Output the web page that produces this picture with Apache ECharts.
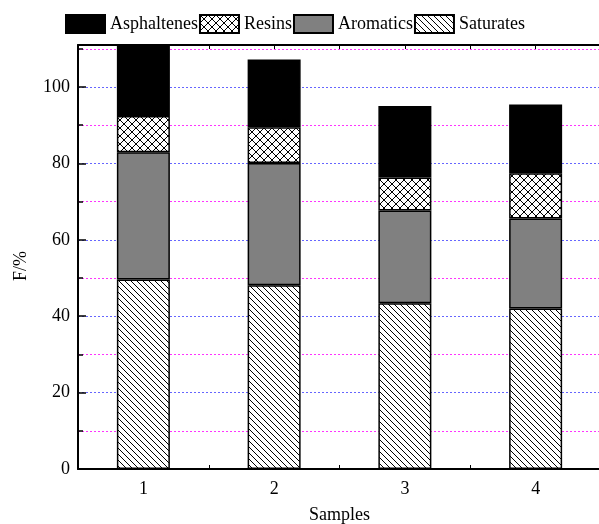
<!DOCTYPE html>
<html>
<head>
<meta charset="utf-8">
<script src="https://cdn.jsdelivr.net/npm/echarts@6/dist/echarts.min.js"></script>
<style>
    html, body { margin: 0; padding: 0; background: #fff; }
    #bar_stacked { width: 599px; height: 524px; }
</style>
</head>
<body>
<div id="bar_stacked"></div>
<script>
// Chart data
var samples = ['1', '2', '3', '4'];
var saturates = [49.6, 48.1, 43.4, 42.0];
var aromatics = [33.3, 32.0, 24.3, 23.6];
var resins = [9.5, 9.4, 8.6, 11.8];
var asphaltenes = [19.5, 17.7, 18.7, 18.0];
var legendNames = ['Asphaltenes', 'Resins', 'Aromatics', 'Saturates'];

var fontFamily = '"Liberation Serif", "Times New Roman", serif';

// Hatch pattern tiles
var makePattern = function (size, cross) {
    var c = document.createElement('canvas');
    c.width = size;
    c.height = size;
    var ctx = c.getContext('2d');
    ctx.fillStyle = '#fff';
    ctx.fillRect(0, 0, size, size);
    ctx.strokeStyle = '#000';
    ctx.lineWidth = 1;
    ctx.beginPath();
    for (var k = -1; k <= 1; k++) {
        ctx.moveTo(k * size, 0);
        ctx.lineTo(k * size + size, size);
        if (cross) {
            ctx.moveTo(k * size + size, 0);
            ctx.lineTo(k * size, size);
        }
    }
    ctx.stroke();
    return { image: c, repeat: 'repeat' };
};

var hatch = makePattern(6, false);
var crossHatch = makePattern(8, true);

var chartElement = document.getElementById('bar_stacked');
var chart = echarts.init(chartElement);

var barSeries = function (name, data, fill) {
    return {
        name: name,
        type: 'bar',
        stack: 'total',
        barWidth: 53,
        xAxisIndex: 0,
        yAxisIndex: 1,
        itemStyle: {
            color: fill,
            borderColor: '#000',
            borderWidth: 1.5
        },
        data: data
    };
};

chart.setOption({
    animation: false,
    textStyle: { fontFamily: fontFamily },

    legend: {
        data: legendNames,
        left: 65,
        top: 14,
        padding: 0,
        itemWidth: 39,
        itemHeight: 18,
        itemGap: 1,
        icon: 'rect',
        textStyle: { fontSize: 18, color: '#000', fontFamily: fontFamily }
    },

    grid: {
        left: 78,
        right: -2,
        top: 45,
        bottom: 55,
        containLabel: false,
        outerBoundsMode: 'none'
    },

    xAxis: [
        {
            type: 'category',
            data: samples,
            name: 'Samples',
            nameLocation: 'middle',
            nameGap: 37,
            nameTextStyle: { fontSize: 18, color: '#000' },
            axisLine: { lineStyle: { color: '#000', width: 2 } },
            axisTick: { alignWithLabel: true, inside: true, length: 4, lineStyle: { color: '#000' } },
            axisLabel: { fontSize: 18, color: '#000', margin: 11 },
            splitLine: { show: false }
        },
        {
            type: 'value',
            position: 'bottom',
            min: 0,
            max: 8,
            interval: 2,
            axisLine: { show: false },
            axisTick: { show: true, inside: true, length: 4, lineStyle: { color: '#000' } },
            axisLabel: { show: false },
            splitLine: { show: false }
        },
        {
            type: 'value',
            position: 'top',
            min: 0,
            max: 8,
            interval: 1,
            axisLine: { show: true, lineStyle: { color: '#000', width: 2 } },
            axisTick: { show: true, inside: true, length: 4, lineStyle: { color: '#000' } },
            axisLabel: { show: false },
            splitLine: { show: false }
        }
    ],

    yAxis: [
        // minor grid (every 10, magenta)
        {
            type: 'value',
            position: 'left',
            min: 0,
            max: 111,
            interval: 10,
            axisLine: { show: false },
            axisTick: { show: true, inside: true, length: 5, lineStyle: { color: '#000', width: 1.5 } },
            axisLabel: { show: false },
            splitLine: {
                show: true,
                showMinLine: false,
                showMaxLine: false,
                lineStyle: { color: '#ff33ff', type: [2, 2], width: 1 }
            }
        },
        // major grid (every 20, blue) with labels
        {
            type: 'value',
            position: 'left',
            min: 0,
            max: 111,
            interval: 20,
            name: 'F/%',
            nameLocation: 'middle',
            nameGap: 48,
            nameTextStyle: { fontSize: 18, color: '#000', padding: [0, 18, 0, 0] },
            axisLine: { show: true, lineStyle: { color: '#000', width: 2 } },
            axisTick: { show: true, inside: true, length: 8, lineStyle: { color: '#000', width: 1.5 } },
            axisLabel: {
                fontSize: 18,
                color: '#000',
                margin: 8,
                formatter: function (v) { return v % 20 === 0 ? v : ''; }
            },
            splitLine: {
                show: true,
                showMinLine: false,
                showMaxLine: false,
                lineStyle: { color: '#6666ff', type: [2, 2], width: 1 }
            }
        }
    ],

    series: [
        barSeries('Saturates', saturates, hatch),
        barSeries('Aromatics', aromatics, '#808080'),
        barSeries('Resins', resins, crossHatch),
        barSeries('Asphaltenes', asphaltenes, '#000')
    ]
});
</script>
</body>
</html>
